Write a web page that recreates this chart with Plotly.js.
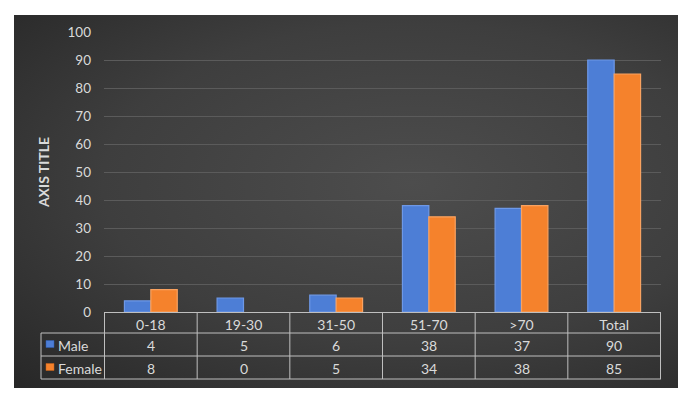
<!DOCTYPE html>
<html>
<head>
<meta charset="utf-8">
<script src="https://cdn.plot.ly/plotly-3.0.1.min.js"></script>
<style>
  html, body { margin: 0; padding: 0; background: #ffffff; }
  #wrap { position: relative; width: 697px; height: 398px; }
  #bg { position: absolute; left: 14px; top: 15px; width: 664px; height: 373px;
        background: radial-gradient(ellipse at 60% 45%, #4d4d4d 0%, #3e3e3e 55%, #272727 100%); }
  #chart { position: absolute; left: 0; top: 0; width: 697px; height: 398px; }
</style>
</head>
<body>
<div id="wrap"><div id="bg"></div><div id="chart"></div></div>
<script>
const categories = ['0-18', '19-30', '31-50', '51-70', '>70', 'Total'];
const male = [4, 5, 6, 38, 37, 90];
const female = [8, 0, 5, 34, 38, 85];
const seriesNames = ['Male', 'Female'];
const yTicks = [0, 10, 20, 30, 40, 50, 60, 70, 80, 90, 100];

const W = 697, H = 398;
const ml = 104, mr = 36, mt = 32, mb = 86;
const plotH = H - mt - mb;
const py = p => (H - mb - p) / plotH;              // pixel y -> paper y
const pxp = p => (p - ml) / (W - ml - mr);          // pixel x -> paper x

const font = 'Lato, "Open Sans", "Liberation Sans", sans-serif';
const txt = '#dadada';
const lineC = '#bfbfbf';

const edge = arr => arr.map(v => (v > 0 ? 1.2 : 0));

const traces = [
  { type: 'bar', name: seriesNames[0], x: categories, y: male,
    marker: { color: '#4d7ed6', line: { color: '#6e98e6', width: edge(male) } } },
  { type: 'bar', name: seriesNames[1], x: categories, y: female,
    marker: { color: '#f5822c', line: { color: '#f9a260', width: edge(female) } } }
];

const rowY = [py(345), py(368)];
const rowLines = [333, 356, 379];
const shapes = [];
rowLines.forEach(p => shapes.push({ type: 'line', xref: 'paper', yref: 'paper',
  x0: pxp(41), x1: 1, y0: py(p), y1: py(p), line: { color: lineC, width: 1 } }));
shapes.push({ type: 'line', xref: 'paper', yref: 'paper', x0: pxp(41), x1: pxp(41),
  y0: py(333), y1: py(379), line: { color: lineC, width: 1 } });
for (let i = 0; i <= categories.length; i++) {
  shapes.push({ type: 'line', xref: 'x', yref: 'paper', x0: i - 0.5, x1: i - 0.5,
    y0: 0, y1: py(379), line: { color: lineC, width: 1 } });
}
const keyColors = ['#4d7ed6', '#f5822c'];
const keyLines = ['#2f5fb3', '#c9621a'];
[340.5, 363.5].forEach((p, k) => shapes.push({ type: 'rect', xref: 'paper', yref: 'paper',
  x0: pxp(46), x1: pxp(54), y0: py(p + 7), y1: py(p), fillcolor: keyColors[k],
  line: { color: keyLines[k], width: 0.5 } }));

const annotations = [];
[male, female].forEach((arr, r) => {
  arr.forEach((v, i) => annotations.push({ xref: 'x', yref: 'paper', x: categories[i], y: rowY[r],
    text: String(v), showarrow: false, font: { family: font, size: 14, color: txt },
    xanchor: 'center', yanchor: 'middle' }));
  annotations.push({ xref: 'paper', yref: 'paper', x: pxp(56), y: rowY[r], text: seriesNames[r],
    showarrow: false, font: { family: font, size: 14, color: txt }, xanchor: 'left', yanchor: 'middle' });
});

const layout = {
  width: W, height: H,
  margin: { l: ml, r: mr, t: mt, b: mb, pad: 0 },
  paper_bgcolor: 'rgba(0,0,0,0)', plot_bgcolor: 'rgba(0,0,0,0)',
  showlegend: false,
  barmode: 'group', bargap: 0.43, bargroupgap: 0,
  font: { family: font, size: 14, color: txt },
  xaxis: { type: 'category', showgrid: false, zeroline: false, showline: true,
    linecolor: lineC, linewidth: 1, ticks: '', ticklen: 0,
    tickfont: { family: font, size: 14, color: txt }, fixedrange: true },
  yaxis: { range: [0, 100], tickvals: yTicks, showgrid: true, gridcolor: '#5b5b5b', gridwidth: 1,
    zeroline: false, showline: false, ticks: '', ticklabelstandoff: 12,
    tickfont: { family: font, size: 13.5, color: txt },
    title: { text: 'AXIS TITLE', font: { family: font, size: 14, color: txt, weight: 'bold' }, standoff: 14 },
    fixedrange: true },
  shapes: shapes,
  annotations: annotations
};

Plotly.newPlot('chart', traces, layout, { displayModeBar: false, staticPlot: true });
</script>
</body>
</html>
